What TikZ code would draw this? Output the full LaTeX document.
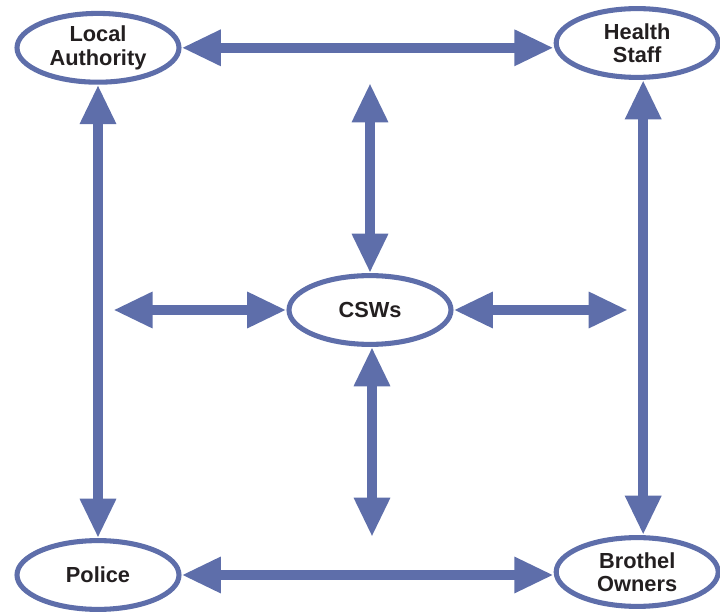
\documentclass[tikz,border=0pt]{standalone}
\usepackage{fontspec}
\setmainfont{Liberation Sans}
\usetikzlibrary{shapes.geometric, arrows.meta}
\definecolor{linkblue}{HTML}{5E6EAA}
\definecolor{textdark}{HTML}{231F20}

\begin{document}
\begin{tikzpicture}[
  party/.style = {ellipse, draw = linkblue, line width = 3.6pt, fill = white,
                  minimum width = 4.05cm, minimum height = 1.72cm, inner sep = 0pt,
                  align = center, text = textdark,
                  font = \bfseries\fontsize{15.5}{16.5}\selectfont},
  link/.style = {draw = linkblue, line width = 7pt,
                 {Triangle[length = 28pt, width = 24pt]}-{Triangle[length = 28pt, width = 24pt]}}]

  \useasboundingbox (0, 0) rectangle (18, 15.375);

  % the five parties
  \node [party] (la) at (2.45, 14.18) {Local\\Authority};
  \node [party] (hs) at (15.93, 14.3) {Health\\Staff};
  \node [party] (csw) at (9.25, 7.625) {CSWs};
  \node [party] (pol) at (2.45, 1.0) {Police};
  \node [party] (bo) at (15.93, 1.075) {Brothel\\Owners};

  % free ends of the inner arrows
  \coordinate (top) at (9.25, 13.3);
  \coordinate (bottom) at (9.3, 1.95);
  \coordinate (left) at (2.83, 7.6);
  \coordinate (right) at (15.7, 7.65);

  % outer square
  \draw [link] (la.east) -- (la.east -| hs.west);
  \draw [link] (pol.east) -- (pol.east -| bo.west);
  \draw [link] (la.south) -- (pol.north);
  \draw [link] ([xshift = 0.15cm]hs.south) -- ([xshift = 0.15cm]bo.north);

  % cross through the middle
  \draw [link] (top) -- (csw.north);
  \draw [link] (csw.south -| bottom) -- (bottom);
  \draw [link] (left |- csw.west) -- (csw.west);
  \draw [link] (csw.east) -- (right |- csw.east);

\end{tikzpicture}
\end{document}
